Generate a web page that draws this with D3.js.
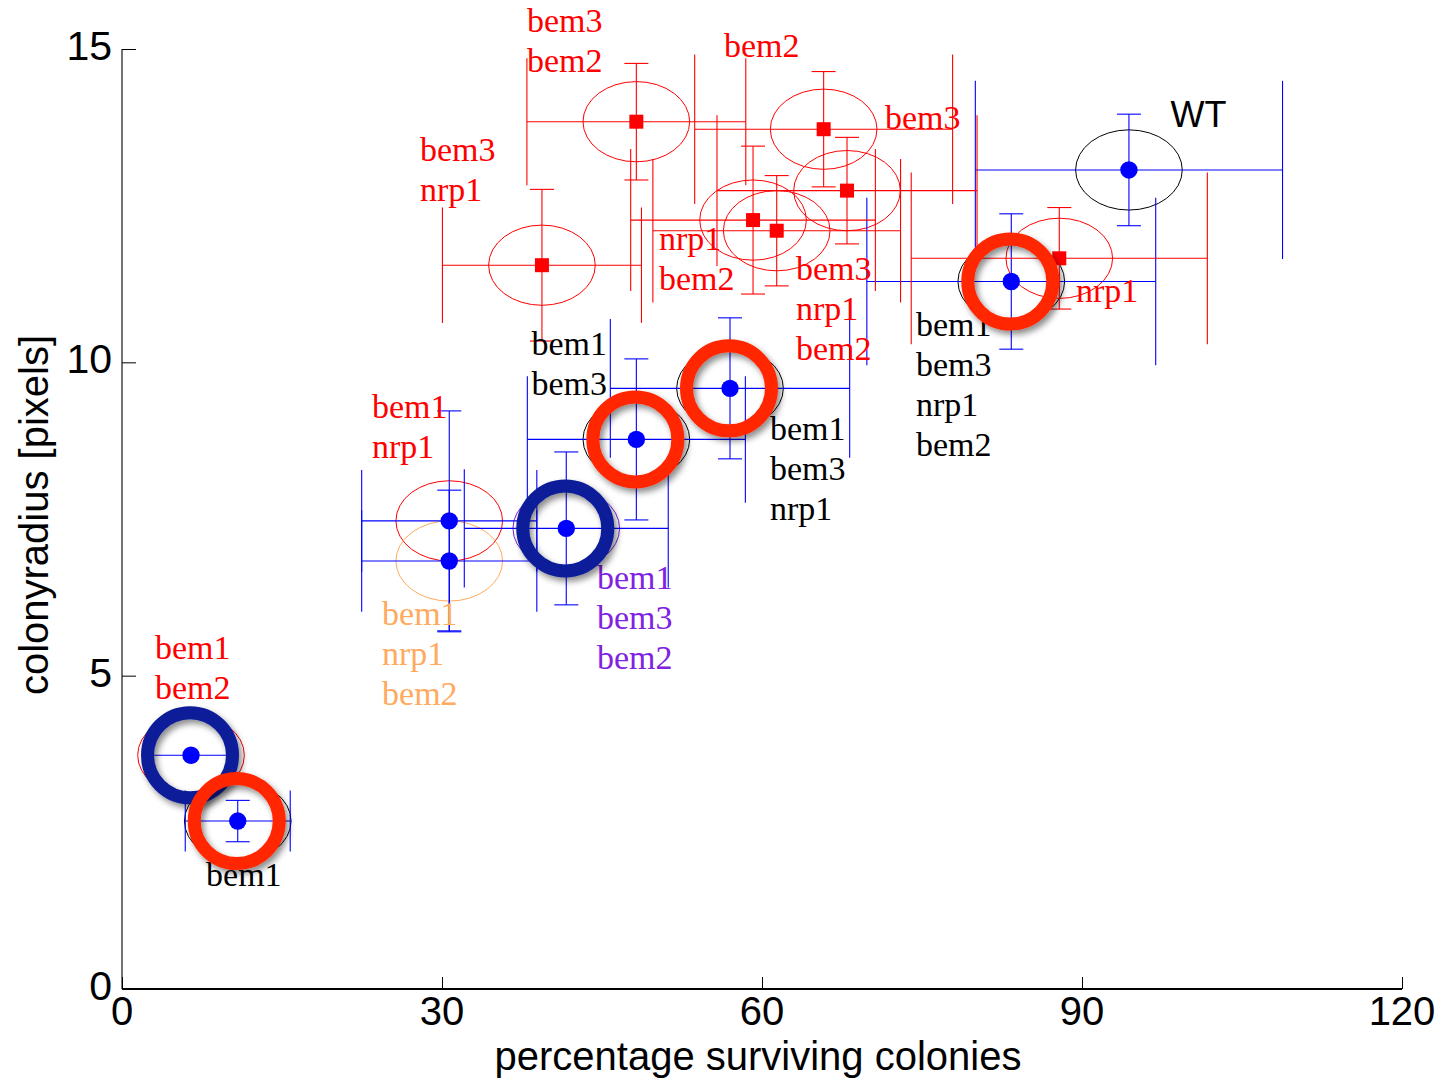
<!DOCTYPE html>
<html><head><meta charset="utf-8">
<script src="https://cdn.jsdelivr.net/npm/d3@7"></script>
<style>body{margin:0;background:#fff;} svg{display:block}</style>
</head><body>
<script>
// ---- data ----
const strains = ["WT","bem1 bem3 nrp1 bem2","bem1 bem3 nrp1","bem1 bem3","bem1 bem3 bem2","bem1 nrp1","bem1 nrp1 bem2","bem1 bem2","bem1",
                 "bem3 nrp1","bem3 bem2","bem2","bem3","nrp1 bem2","bem3 nrp1 bem2","nrp1"];
const survival    = [94.4, 83.37, 57.0, 48.22, 41.65, 30.68, 30.68, 6.47, 10.85, 39.37, 48.22, 65.78, 67.97, 59.16, 61.38, 87.87];
const survivalErr = [14.4, 13.54, 11.22, 10.22, 9.56, 8.21, 8.21, 3.7, 4.92, 9.33, 10.26, 12.09, 12.19, 11.47, 11.61, 13.88];
const radius      = [13.07, 11.29, 9.585, 8.77, 7.35, 7.47, 6.83, 3.73, 2.68, 11.55, 13.84, 13.72, 12.74, 12.27, 12.10, 11.66];
const radiusErr   = [0.89, 1.08, 1.125, 1.285, 1.22, 1.755, 1.13, 0, 0.33, 1.21, 0.93, 0.92, 0.85, 1.18, 0.88, 0.81];
const markerType  = ["circle","circle","circle","circle","circle","circle","circle","circle","circle",
                     "square","square","square","square","square","square","square"];
const labelColor  = ["black","black","black","black","purple","red","orange","red","black",
                     "red","red","red","red","red","red","red"];
const highlight   = ["","orange","orange","orange","navy","","","navy","orange","","","","","","",""];
// label anchors (data units: left edge, first baseline)
const labelX = [98.3, 74.44, 60.75, 38.39, 44.53, 23.44, 24.38, 3.09, 7.88, 27.94, 37.97, 56.44, 71.53, 50.34, 63.19, 89.44];
const labelY = [13.75, 10.42, 8.76, 10.12, 6.39, 9.11, 5.81, 5.26, 1.64, 13.21, 15.27, 14.87, 13.73, 11.80, 11.31, 10.97];
const xTicks = [0, 30, 60, 90, 120];
const yTicks = [0, 5, 10, 15];
const xTitle = "percentage surviving colonies";
const yTitle = "colonyradius [pixels]";

// ---- layout ----
const W = 1446, H = 1078;
const x = d3.scaleLinear().domain([0, 120]).range([122, 1402]);
const y = d3.scaleLinear().domain([0, 15]).range([989, 49]);
const colors = {black:"#000000", red:"#ff0000", orange:"#ffaa5e", purple:"#8022e0"};
const ringColors = {orange:"#ff2600", navy:"#0a1c98"};
const sans = "'Liberation Sans', Arial, Helvetica, sans-serif";
const serif = "'Liberation Serif', 'Times New Roman', serif";

const svg = d3.select("body").append("svg").attr("width", W).attr("height", H);
const defs = svg.append("defs");
const f = defs.append("filter").attr("id","shadow").attr("x","-30%").attr("y","-30%").attr("width","160%").attr("height","160%");
f.append("feDropShadow").attr("dx",3).attr("dy",4).attr("stdDeviation",3).attr("flood-color","#000").attr("flood-opacity",0.45);

const data = strains.map((s,i)=>({name:s, x:survival[i], xe:survivalErr[i], y:radius[i], ye:radiusErr[i],
  type:markerType[i], col:labelColor[i], hl:highlight[i], lx:labelX[i], ly:labelY[i]}));

// axes
const ax = svg.append("g");
ax.append("line").attr("x1",x(0)).attr("x2",x(0)).attr("y1",y(15)).attr("y2",y(0)).attr("stroke","#444").attr("stroke-width",1.5);
ax.append("line").attr("x1",x(0)).attr("x2",x(120)).attr("y1",y(0)).attr("y2",y(0)).attr("stroke","#000").attr("stroke-width",2);
const yAxis = d3.axisRight(y).tickValues(yTicks).tickSize(14).tickFormat("");
ax.append("g").attr("transform",`translate(${x(0)},0)`).call(yAxis).call(g=>{g.select(".domain").remove(); g.selectAll("line").attr("stroke","#000").attr("stroke-width",1);});
const xAxis = d3.axisTop(x).tickValues(xTicks).tickSize(12).tickFormat("");
ax.append("g").attr("transform",`translate(0,${y(0)})`).call(xAxis).call(g=>{g.select(".domain").remove(); g.selectAll("line").attr("stroke","#000").attr("stroke-width",1);});
ax.selectAll(".ylab").data(yTicks).enter().append("text")
  .attr("x",112).attr("y",d=>y(d)-3).attr("text-anchor","end").attr("dominant-baseline","central")
  .attr("font-family",sans).attr("font-size",41).text(d=>d);
ax.selectAll(".xlab").data(xTicks).enter().append("text")
  .attr("x",d=>x(d)).attr("y",1025).attr("text-anchor","middle")
  .attr("font-family",sans).attr("font-size",40).text(d=>d);
ax.append("text").attr("x",758).attr("y",1070).attr("text-anchor","middle").attr("font-family",sans).attr("font-size",40).text(xTitle);
ax.append("text").attr("transform","translate(48,515) rotate(-90)").attr("text-anchor","middle").attr("font-family",sans).attr("font-size",40).text(yTitle);

// ellipses
const g = svg.append("g");
g.selectAll("ellipse").data(data).enter().append("ellipse")
  .attr("cx",d=>x(d.x)).attr("cy",d=>y(d.y))
  .attr("rx",x(5)-x(0)).attr("ry",y(0)-y(0.64))
  .attr("fill","none").attr("stroke",d=>colors[d.col]).attr("stroke-width",1);

// error bars
const eb = svg.append("g").attr("fill","none");
data.forEach(d=>{
  const c = d.type==="square" ? "#ff0000" : "#0000ff";
  const cx = x(d.x), cy = y(d.y);
  const x0 = x(d.x-d.xe), x1 = x(d.x+d.xe);
  const capH = 0.58*(x1-cx);
  const e = eb.append("g").attr("stroke",c).attr("stroke-width",1.1);
  e.append("line").attr("x1",x0).attr("x2",x1).attr("y1",cy).attr("y2",cy);
  e.append("line").attr("x1",x0).attr("x2",x0).attr("y1",cy-capH).attr("y2",cy+capH);
  e.append("line").attr("x1",x1).attr("x2",x1).attr("y1",cy-capH).attr("y2",cy+capH);
  if (d.ye>0){
    const y0 = y(d.y-d.ye), y1 = y(d.y+d.ye), cw = 12;
    e.append("line").attr("x1",cx).attr("x2",cx).attr("y1",y0).attr("y2",y1);
    e.append("line").attr("x1",cx-cw).attr("x2",cx+cw).attr("y1",y0).attr("y2",y0);
    e.append("line").attr("x1",cx-cw).attr("x2",cx+cw).attr("y1",y1).attr("y2",y1);
  }
});

// markers
const mk = svg.append("g");
mk.selectAll("circle").data(data.filter(d=>d.type==="circle")).enter().append("circle")
  .attr("cx",d=>x(d.x)).attr("cy",d=>y(d.y)).attr("r",8.7).attr("fill","#0000ff");
mk.selectAll("rect").data(data.filter(d=>d.type==="square")).enter().append("rect")
  .attr("x",d=>x(d.x)-7).attr("y",d=>y(d.y)-7).attr("width",14).attr("height",14).attr("fill","#ff0000");

// labels
const lb = svg.append("g");
data.forEach(d=>{
  const isWT = d.name==="WT";
  const t = lb.append("text").attr("x",x(d.lx)).attr("y",y(d.ly))
    .attr("font-family",isWT?sans:serif).attr("font-size",isWT?36:34).attr("fill",colors[d.col]);
  d.name.split(" ").forEach((w,k)=>{
    t.append("tspan").attr("x",x(d.lx)).attr("y",y(d.ly)+k*40).text(w);
  });
});

// highlight rings
const rg = svg.append("g");
rg.selectAll("circle").data(data.filter(d=>d.hl)).enter().append("circle")
  .attr("cx",d=>x(d.x)-1).attr("cy",d=>y(d.y)).attr("r",42.5)
  .attr("fill","none").attr("stroke",d=>ringColors[d.hl]).attr("stroke-width",13)
  .attr("filter","url(#shadow)");
</script>
</body></html>
